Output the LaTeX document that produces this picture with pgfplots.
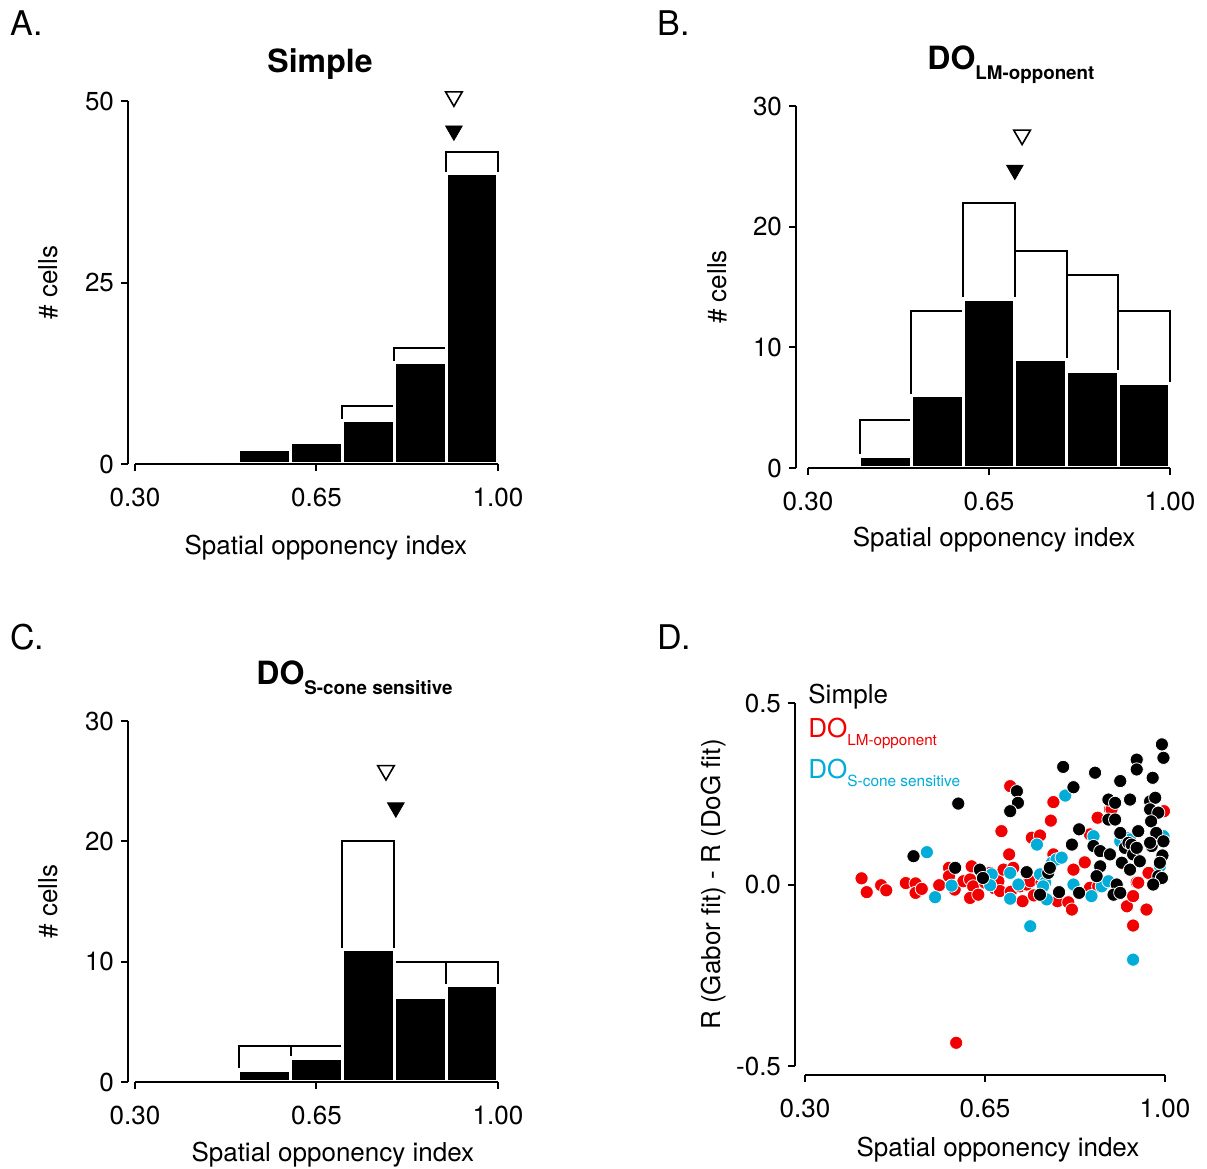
\documentclass[border=0pt]{standalone}
\usepackage{fontspec}
\setmainfont{TeX Gyre Heros}
\usepackage{pgfplots}
\pgfplotsset{compat=1.18}

\definecolor{dored}{RGB}{240,0,0}
\definecolor{docyan}{RGB}{0,172,216}

\newcommand{\lbl}{\fontsize{13}{15}\selectfont}

\pgfplotsset{
  panel/.style={
    scale only axis, clip=false, axis on top, anchor=south west,
    axis x line=bottom, axis y line=left,
    axis line style={line width=1pt,-},
    every tick/.style={black, line width=1pt},
    major tick length=3.5pt, tick align=outside,
    xmin=0.3, xmax=1, xtick={0.3,0.65,1}, xticklabels={0.30,0.65,1.00},
    tick label style={font=\lbl},
    xticklabel style={yshift=-4.8pt},
    label style={font=\lbl},
    /pgf/number format/assume math mode=true,
    xlabel={Spatial opponency index},
    ylabel={\# cells},
  },
  blackbar/.style={ybar interval, fill=black, draw=white, line width=1.6pt},
  openbar/.style={ybar interval, fill=white, draw=black, line width=1pt},
  openmark/.style={only marks, mark=triangle, mark size=4.8pt, mark options={rotate=180, black, line width=0.8pt}},
  fullmark/.style={only marks, mark=triangle*, mark size=4.8pt, mark options={rotate=180, fill=black, draw=black}},
  dot/.style={only marks, mark=*, mark size=3.3pt, mark options={fill=#1, draw=white, line width=0.4pt}},
}

\begin{document}
\begin{tikzpicture}
\useasboundingbox (0,0) rectangle (603.5pt,-584.5pt);

% A
\begin{axis}[panel, at={(67.5pt,-232pt)}, width=181.5pt, height=181.5pt,
  ymin=0, ymax=50, ytick={0,25,50}, axis y line shift=3.5pt,
  xlabel style={at={(axis description cs:0.526,-0.229)}, anchor=center},
  ylabel style={at={(axis description cs:-0.24,0.5)}, anchor=center}]
\addplot[openbar] coordinates {(0.5,2)(0.6,3)(0.7,8)(0.8,16)(0.9,43)(1.0,0)};
\addplot[blackbar] coordinates {(0.5,2)(0.6,3)(0.7,6)(0.8,14)(0.9,40)(1.0,0)};
\addplot[openmark] coordinates {(0.915,50.6)};
\addplot[fullmark] coordinates {(0.915,45.9)};
\end{axis}

% B
\begin{axis}[panel, at={(404pt,-234pt)}, width=181pt, height=181pt,
  ymin=0, ymax=30, ytick={0,10,20,30}, axis y line shift=6pt,
  xlabel style={at={(axis description cs:0.514,-0.199)}, anchor=center},
  ylabel style={at={(axis description cs:-0.251,0.5)}, anchor=center}]
\addplot[openbar] coordinates {(0.4,4)(0.5,13)(0.6,22)(0.7,18)(0.8,16)(0.9,13)(1.0,0)};
\addplot[blackbar] coordinates {(0.4,1)(0.5,6)(0.6,14)(0.7,9)(0.8,8)(0.9,7)(1.0,0)};
\addplot[openmark] coordinates {(0.714,27.6)};
\addplot[fullmark] coordinates {(0.700,24.7)};
\end{axis}

% C
\begin{axis}[panel, at={(67.5pt,-541pt)}, width=181.5pt, height=180.5pt,
  ymin=0, ymax=30, ytick={0,10,20,30}, axis y line shift=3.5pt,
  xlabel style={at={(axis description cs:0.545,-0.202)}, anchor=center},
  ylabel style={at={(axis description cs:-0.24,0.5)}, anchor=center}]
\addplot[openbar] coordinates {(0.5,3)(0.6,3)(0.7,20)(0.8,10)(0.9,10)(1.0,0)};
\addplot[blackbar] coordinates {(0.5,1)(0.6,2)(0.7,11)(0.8,7)(0.9,8)(1.0,0)};
\addplot[openmark] coordinates {(0.784,25.9)};
\addplot[fullmark] coordinates {(0.803,22.8)};
\end{axis}

% D
\begin{axis}[panel, at={(402.5pt,-533pt)}, width=180pt, height=181.5pt,
  ymin=-0.5, ymax=0.5, ytick={-0.5,0,0.5}, yticklabels={-0.5,0.0,0.5},
  axis y line shift=5pt, axis x line shift=4.5pt,
  ylabel={R (Gabor fit) - R (DoG fit)},
  xlabel style={at={(axis description cs:0.536,-0.229)}, anchor=center},
  ylabel style={at={(axis description cs:-0.253,0.5)}, anchor=center}]
\addplot[dot=dored] coordinates {
(0.410,0.017)(0.420,-0.021)(0.448,-0.002)(0.458,-0.016)(0.496,0.004)(0.515,0.003)
(0.515,-0.023)(0.527,-0.012)(0.561,-0.002)(0.580,0.046)(0.580,0.023)(0.591,-0.014)
(0.608,0.009)(0.621,0.014)(0.624,0.050)(0.627,-0.005)(0.621,-0.037)(0.637,-0.028)
(0.650,0.005)(0.660,0.032)(0.668,-0.010)(0.676,0.009)(0.679,-0.018)(0.686,0.041)
(0.697,0.083)(0.682,0.147)(0.699,0.271)(0.700,-0.020)(0.705,0.046)(0.718,-0.005)
(0.723,-0.046)(0.731,0.000)(0.738,0.009)(0.741,0.129)(0.745,-0.030)(0.757,0.135)
(0.760,0.005)(0.778,0.176)(0.783,0.227)(0.783,0.083)(0.791,-0.046)(0.812,-0.049)
(0.819,-0.069)(0.822,0.041)(0.844,0.061)(0.854,0.138)(0.854,-0.009)(0.869,0.184)
(0.870,-0.005)(0.893,0.207)(0.896,0.207)(0.926,-0.060)(0.938,-0.032)(0.945,0.006)
(0.948,0.005)(0.964,-0.069)(0.938,-0.113)(0.968,0.032)(0.998,0.202)(0.594,-0.436)
};
\addplot[dot=docyan] coordinates {
(0.537,0.089)(0.553,-0.035)(0.585,-0.003)(0.663,0.028)(0.660,-0.002)(0.699,0.032)
(0.699,-0.039)(0.715,0.000)(0.751,0.110)(0.738,-0.115)(0.757,0.028)(0.767,0.005)
(0.763,-0.005)(0.770,-0.041)(0.780,0.060)(0.789,0.069)(0.799,0.074)(0.806,0.245)
(0.822,0.000)(0.861,0.133)(0.857,-0.032)(0.877,-0.005)(0.890,0.009)(0.913,0.119)
(0.925,0.129)(0.932,0.124)(0.938,-0.207)(0.990,0.050)(0.997,0.133)
};
\addplot[dot=black] coordinates {
(0.511,0.078)(0.598,0.223)(0.592,0.046)(0.640,0.041)(0.646,0.018)(0.712,0.257)
(0.714,0.225)(0.699,0.202)(0.731,0.034)(0.757,-0.028)(0.773,0.032)(0.776,0.046)
(0.794,-0.021)(0.802,0.324)(0.822,0.268)(0.833,0.152)(0.819,0.110)(0.833,-0.023)
(0.864,0.308)(0.861,0.106)(0.874,0.050)(0.874,0.092)(0.867,0.023)(0.890,0.234)
(0.903,0.225)(0.890,0.179)(0.893,0.083)(0.903,0.179)(0.906,0.000)(0.900,-0.028)
(0.913,0.285)(0.913,0.142)(0.913,-0.023)(0.916,0.060)(0.922,0.101)(0.932,0.234)
(0.929,0.115)(0.935,0.110)(0.932,0.041)(0.938,0.083)(0.945,0.344)(0.945,0.317)
(0.945,0.101)(0.948,0.147)(0.951,0.064)(0.976,0.294)(0.971,0.229)(0.981,0.239)
(0.971,0.207)(0.987,0.198)(0.973,0.174)(0.983,0.142)(0.974,0.106)(0.971,0.115)
(0.997,0.119)(0.995,0.080)(0.990,0.060)(0.987,0.014)(0.987,0.023)(0.994,0.018)
(0.977,0.000)(0.994,0.386)(0.997,0.349)
};
\end{axis}

% panel letters and titles
\begin{scope}[every node/.style={inner sep=0pt}]
\node[anchor=base west, font=\fontsize{17}{19}\selectfont] at (5pt,-17.5pt) {A.};
\node[anchor=base west, font=\fontsize{17}{19}\selectfont] at (328.5pt,-17.5pt) {B.};
\node[anchor=base west, font=\fontsize{17}{19}\selectfont] at (5pt,-324.5pt) {C.};
\node[anchor=base west, font=\fontsize{17}{19}\selectfont] at (328.5pt,-324.5pt) {D.};
\node[anchor=base, font=\bfseries\fontsize{16}{18}\selectfont] at (160pt,-36pt) {Simple};
\node[anchor=base west, font=\bfseries\fontsize{16}{18}\selectfont] at (463.5pt,-34.5pt)
  {DO\raisebox{-5pt}{\fontsize{9.4}{11}\selectfont LM-opponent}};
\node[anchor=base west, font=\bfseries\fontsize{16}{18}\selectfont] at (128pt,-342pt)
  {DO\raisebox{-5pt}{\fontsize{9.4}{11}\selectfont S-cone sensitive}};
\node[anchor=base west, font=\lbl] at (404pt,-351.5pt) {Simple};
\node[anchor=base west, font=\lbl, text=dored] at (404pt,-368.5pt)
  {DO\raisebox{-4pt}{\fontsize{7.6}{9}\selectfont LM-opponent}};
\node[anchor=base west, font=\lbl, text=docyan] at (404pt,-389pt)
  {DO\raisebox{-4pt}{\fontsize{7.7}{9}\selectfont S-cone sensitive}};
\end{scope}
\end{tikzpicture}
\end{document}
